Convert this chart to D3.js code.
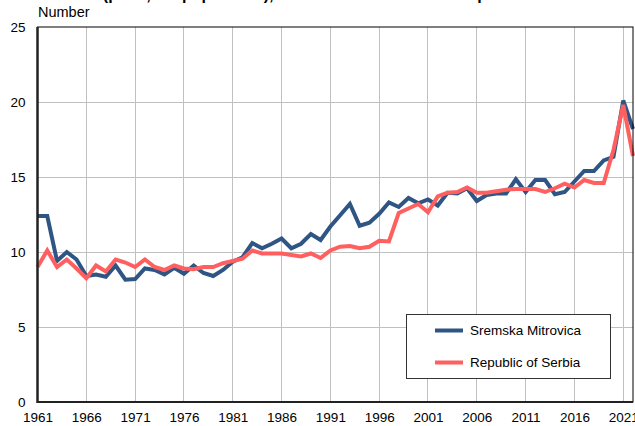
<!DOCTYPE html>
<html>
<head>
<meta charset="utf-8">
<script src="https://cdn.jsdelivr.net/npm/d3@7"></script>
<style>
html,body{margin:0;padding:0;background:#fff;}
svg{display:block;font-family:"Liberation Sans",Arial,sans-serif;}
</style>
</head>
<body>
<svg id="chart" width="635" height="426"></svg>
<script>
const years = d3.range(1961, 2023);
const sremskaMitrovica = [12.4,12.4,9.4,10.0,9.5,8.4,8.5,8.35,9.1,8.15,8.2,8.9,8.8,8.5,8.95,8.55,9.1,8.6,8.4,8.8,9.35,9.65,10.6,10.25,10.55,10.9,10.25,10.55,11.2,10.8,11.7,12.45,13.2,11.75,11.95,12.55,13.3,13.0,13.6,13.25,13.5,13.1,13.95,13.9,14.25,13.4,13.8,13.9,13.9,14.85,14.0,14.8,14.8,13.85,14.0,14.7,15.4,15.4,16.1,16.35,20.1,18.2];
const republicOfSerbia = [9.0,10.1,9.0,9.5,8.9,8.25,9.1,8.7,9.5,9.3,9.0,9.5,9.0,8.8,9.1,8.9,8.85,9.0,9.0,9.25,9.4,9.55,10.1,9.9,9.9,9.9,9.8,9.7,9.9,9.6,10.1,10.35,10.4,10.25,10.35,10.75,10.7,12.6,12.9,13.2,12.65,13.7,13.95,14.0,14.3,13.95,13.95,14.05,14.15,14.2,14.2,14.2,14.0,14.25,14.55,14.3,14.8,14.6,14.6,16.8,19.8,16.4];
const xTicks = [1961,1966,1971,1976,1981,1986,1991,1996,2001,2006,2011,2016,2021];
const yTicks = [0,5,10,15,20,25];
const seriesNames = ["Sremska Mitrovica","Republic of Serbia"];
const seriesColors = ["#2f5584","#ff5f5f"];
const title = "Deaths (per 1,000 population), Sremska Mitrovica and Republic of Serbia";
const yLabel = "Number";

const svg = d3.select("#chart");
const m = {left:37.5, right:633, top:27, bottom:402};
const x = d3.scaleLinear().domain([1961,2022]).range([m.left, m.right]);
const y = d3.scaleLinear().domain([0,25]).range([m.bottom, m.top]);

svg.append("text").attr("x",45).attr("y",-0.5).attr("font-weight","bold").attr("font-size",16).attr("fill","#000").text(title);
svg.append("text").attr("x",38).attr("y",17).attr("font-size",14.5).attr("fill","#000").text(yLabel);

// gridlines
const grid = svg.append("g").attr("stroke","#c0c0c0").attr("stroke-width",1).attr("shape-rendering","crispEdges");
grid.selectAll(".v").data(xTicks.slice(1)).enter().append("line")
  .attr("x1",d=>x(d)).attr("x2",d=>x(d)).attr("y1",m.top).attr("y2",m.bottom);
grid.selectAll(".h").data(yTicks.slice(1,-1)).enter().append("line")
  .attr("x1",m.left).attr("x2",m.right).attr("y1",d=>y(d)).attr("y2",d=>y(d));

// axes labels
const yAxis = d3.axisLeft(y).tickValues(yTicks).tickSize(0).tickPadding(12);
const gy = svg.append("g").attr("transform",`translate(${m.left},0)`).call(yAxis);
gy.select(".domain").remove();
gy.selectAll("text").attr("font-size",13.5).attr("fill","#000").attr("font-family","Liberation Sans, Arial, sans-serif");

const xAxis = d3.axisBottom(x).tickValues(xTicks).tickSize(0).tickPadding(10).tickFormat(d3.format("d"));
const gx = svg.append("g").attr("transform",`translate(0,${m.bottom})`).call(xAxis);
gx.select(".domain").remove();
gx.selectAll("text").attr("font-size",13.5).attr("fill","#000").attr("font-family","Liberation Sans, Arial, sans-serif");

// lines
const line = d3.line().x((d,i)=>x(years[i])).y(d=>y(d));
[sremskaMitrovica, republicOfSerbia].forEach((s,k)=>{
  svg.append("path").datum(s).attr("d",line).attr("fill","none")
    .attr("stroke",seriesColors[k]).attr("stroke-width",4).attr("stroke-linejoin","miter");
});

// frame
svg.append("rect").attr("x",m.left).attr("y",m.top).attr("width",m.right-m.left).attr("height",m.bottom-m.top)
  .attr("fill","none").attr("stroke","#000").attr("stroke-width",1);
svg.append("line").attr("x1",m.left).attr("x2",m.left).attr("y1",m.top).attr("y2",m.bottom+1).attr("stroke","#222").attr("stroke-width",2.5);
svg.append("line").attr("x1",m.left).attr("x2",m.right).attr("y1",m.bottom).attr("y2",m.bottom).attr("stroke","#222").attr("stroke-width",2);

// legend
const lg = svg.append("g");
lg.append("rect").attr("x",406.5).attr("y",314.5).attr("width",204).attr("height",64).attr("fill","#fff").attr("stroke","#333").attr("stroke-width",1);
seriesNames.forEach((n,k)=>{
  const yy = 330.5 + k*32;
  lg.append("line").attr("x1",435).attr("x2",463).attr("y1",yy).attr("y2",yy).attr("stroke",seriesColors[k]).attr("stroke-width",4);
  lg.append("text").attr("x",470).attr("y",yy+4.5).attr("font-size",13.5).attr("fill","#000").text(n);
});
</script>
</body>
</html>
